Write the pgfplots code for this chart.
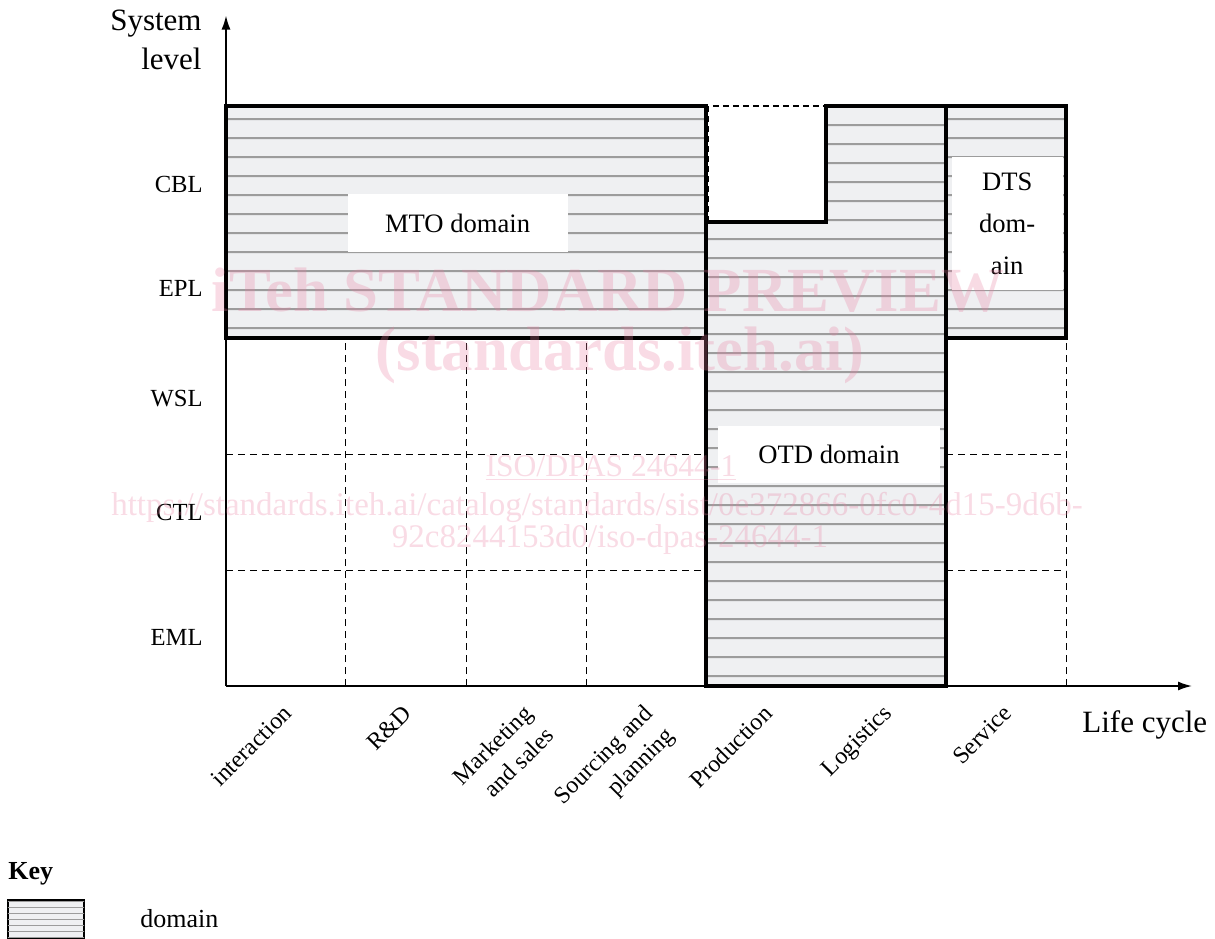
\documentclass[border=0pt]{standalone}
\usepackage{fontspec}
\setmainfont{Liberation Serif}
\usepackage{pgfplots}
\pgfplotsset{compat=1.18}
\usetikzlibrary{patterns, patterns.meta, arrows.meta}
\definecolor{domfill}{HTML}{EFF0F2}
\definecolor{hatch}{HTML}{9C9C9C}
\definecolor{wm}{HTML}{E87FA0}

\tikzdeclarepattern{
  name=domainlines,
  type=colored,
  bounding box={(0pt,0pt) and (10pt,9.667pt)},
  tile size={(10pt,9.667pt)},
  code={\draw[hatch, line width=1pt] (0pt,5.6pt) -- (10pt,5.6pt);}
}

\begin{document}
\begin{tikzpicture}
\path[use as bounding box] (-113pt,-126pt) rectangle (494.5pt,343pt);
\begin{axis}[
  anchor=origin, at={(0pt,0pt)},
  x=60pt, y=58pt,
  xmin=0, xmax=8.05, ymin=0, ymax=5.78,
  axis lines=left,
  axis line style={line width=0.8pt, -{Latex[length=7pt,width=4.5pt]}},
  clip=false,
  tick style={draw=none},
  major tick length=0pt,
  xtick={0.5,1.5,2.5,3.5,4.5,5.5,6.5},
  xticklabels={interaction, R\&D, {Marketing\\and sales}, {Sourcing and\\planning}, Production, Logistics, Service},
  xticklabel style={rotate=45, anchor=north east, align=right, inner sep=0pt,
     font=\fontsize{12}{15.5}\selectfont, yshift=-4.5pt, xshift=-7.5pt},
  ytick={0.42,1.5,2.48,3.43,4.32},
  yticklabels={EML,CTL,WSL,EPL,CBL},
  yticklabel style={anchor=east, inner sep=0pt, xshift=-11.5pt,
     font=\fontsize{12.3}{15}\selectfont},
]
% dashed grid in the free cells
\draw[line width=0.5pt, dash pattern=on 3.5pt off 2.5pt] (axis cs:1,0) -- (axis cs:1,3);
\draw[line width=0.5pt, dash pattern=on 3.5pt off 2.5pt] (axis cs:2,0) -- (axis cs:2,3);
\draw[line width=0.5pt, dash pattern=on 3.5pt off 2.5pt] (axis cs:3,0) -- (axis cs:3,3);
\draw[line width=0.5pt, dash pattern=on 3.5pt off 2.5pt] (axis cs:7,0) -- (axis cs:7,3);
\draw[line width=0.5pt, dash pattern=on 3.5pt off 2.5pt] (axis cs:0,1) -- (axis cs:4,1);
\draw[line width=0.5pt, dash pattern=on 3.5pt off 2.5pt] (axis cs:0,2) -- (axis cs:4,2);
\draw[line width=0.5pt, dash pattern=on 3.5pt off 2.5pt] (axis cs:6,1) -- (axis cs:7,1);
\draw[line width=0.5pt, dash pattern=on 3.5pt off 2.5pt] (axis cs:6,2) -- (axis cs:7,2);

% domains
\addplot[draw=black, line width=1.6pt, line join=miter,
  preaction={fill=domfill}, preaction={pattern=domainlines}]
  coordinates {(0,3) (4,3) (4,5) (0,5)} -- cycle;
\addplot[draw=black, line width=1.6pt, line join=miter,
  preaction={fill=domfill}, preaction={pattern=domainlines}]
  coordinates {(4,0) (6,0) (6,5) (5,5) (5,4) (4,4)} -- cycle;
\addplot[draw=black, line width=1.6pt, line join=miter,
  preaction={fill=domfill}, preaction={pattern=domainlines}]
  coordinates {(6,3) (7,3) (7,5) (6,5)} -- cycle;
% notch outline (dashed)
\draw[line width=0.6pt, dash pattern=on 3pt off 2pt] ([xshift=1.4pt]axis cs:4,4) -- ([xshift=1.4pt]axis cs:4,5) -- (axis cs:5,5);

% domain labels
\node[fill=white, minimum width=110pt, minimum height=29pt, inner sep=0pt,
  font=\fontsize{13.3}{16}\selectfont] at (axis cs:1.93,3.99) {MTO domain};
\node[fill=white, minimum width=111pt, minimum height=28.5pt, inner sep=0pt,
  font=\fontsize{13.3}{16}\selectfont] at (axis cs:5.025,2.0) {OTD domain};
\node[fill=white, minimum width=55.5pt, minimum height=66.5pt, inner sep=0pt, align=center,
  font=\fontsize{13.3}{21}\selectfont] at (axis cs:6.51,3.987) {DTS\\dom-\\ain};

% axis titles
\node[anchor=north east, align=right, inner sep=0pt,
  font=\fontsize{15.5}{19.5}\selectfont] at ([xshift=-12pt,yshift=3pt]axis cs:0,5.78) {System\\level};
\node[anchor=base west, inner sep=0pt,
  font=\fontsize{15.5}{19.5}\selectfont] at (axis cs:7.133,-0.405) {Life cycle};

% key
\node[anchor=base west, inner sep=0pt, font=\fontsize{13}{15}\selectfont\bfseries] at (axis cs:-1.817,-1.672) {Key};
\draw[line width=0.8pt, fill=domfill, postaction={pattern=horizontal lines, pattern color=hatch}]
  (axis cs:-1.817,-2.18) rectangle (axis cs:-1.183,-1.845);
\node[anchor=base west, inner sep=0pt, font=\fontsize{13}{15}\selectfont] at (axis cs:-0.717,-2.086) {domain};

% watermark
\begin{scope}[opacity=0.28, text=wm]
\node[font=\fontsize{31.4}{34}\selectfont\bfseries] at (axis cs:3.183,3.414) {iTeh STANDARD PREVIEW};
\node[font=\fontsize{31.4}{34}\selectfont\bfseries] at (axis cs:3.283,2.853) {(standards.iteh.ai)};
\node[font=\fontsize{15.8}{18}\selectfont] at (axis cs:3.208,1.879) {\underline{ISO/DPAS 24644-1}};
\node[font=\fontsize{16.5}{18}\selectfont] at (axis cs:3.092,1.543) {https://standards.iteh.ai/catalog/standards/sist/0e372866-0fc0-4d15-9d6b-};
\node[font=\fontsize{16.5}{18}\selectfont] at (axis cs:3.2,1.259) {92c8244153d0/iso-dpas-24644-1};
\end{scope}
\end{axis}
\end{tikzpicture}
\end{document}
